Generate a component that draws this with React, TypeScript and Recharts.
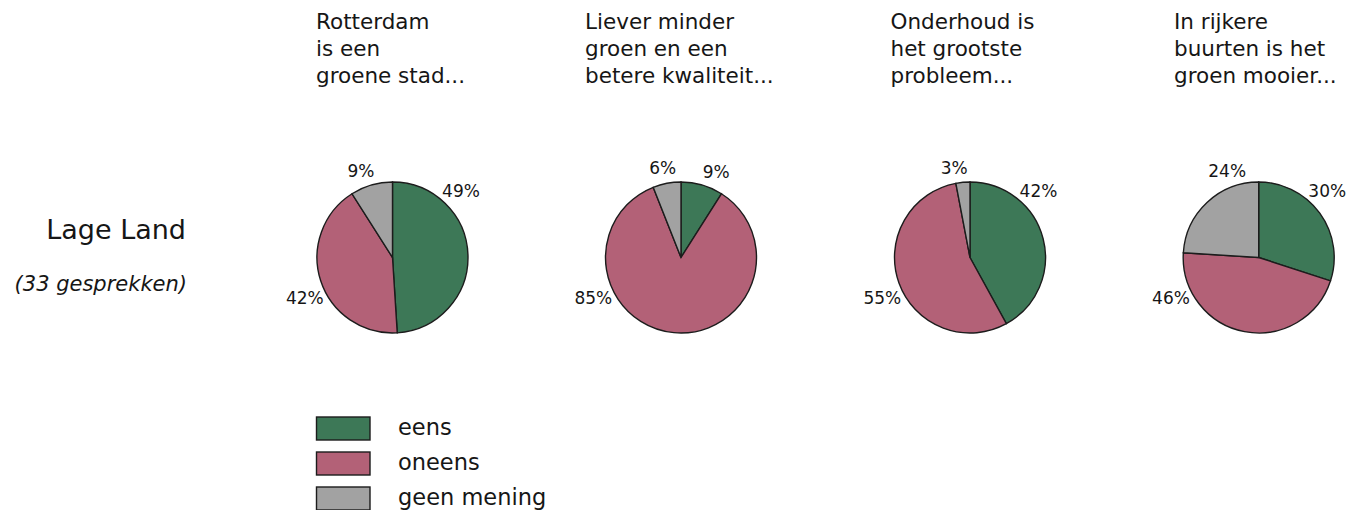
import React from 'react';
import { PieChart, Pie, Cell } from 'recharts';

// ---- data ----
const categories = ['eens', 'oneens', 'geen mening'];
const questionTitles = [
  ['Rotterdam', 'is een', 'groene stad...'],
  ['Liever minder', 'groen en een', 'betere kwaliteit...'],
  ['Onderhoud is', 'het grootste', 'probleem...'],
  ['In rijkere', 'buurten is het', 'groen mooier...'],
];
const eensValues = [49, 9, 42, 30];
const oneensValues = [42, 85, 55, 46];
const geenMeningValues = [9, 6, 3, 24];
const groupName = 'Lage Land';
const groupNote = '(33 gesprekken)';

// ---- style / layout ----
const COLORS = ['#3d7857', '#b36177', '#a2a2a2'];
const STROKE = '#1c1c1c';
const FONT = '"DejaVu Sans", Verdana, sans-serif';
const TEXT = '#161616';
const W = 1363;
const H = 510;
const pieCx = [392.5, 681, 970, 1258.7];
const pieCy = 257.5;
const R = 75.5;
const titleX = [316, 585, 890.5, 1174];
const titleBaselines = [29, 56, 83];
// preferred label angles per category (degrees, recharts convention)
const preferredAngle = [44, -155, 110];

const RAD = Math.PI / 180;

const makeData = (i: number) => [
  { name: categories[0], value: eensValues[i] },
  { name: categories[1], value: oneensValues[i] },
  { name: categories[2], value: geenMeningValues[i] },
];

const renderLabel = (p: any) => {
  const { cx, cy, outerRadius, startAngle, endAngle, midAngle, value, index } = p;
  const lo = Math.min(startAngle, endAngle) + 10;
  const hi = Math.max(startAngle, endAngle) - 10;
  // bring preferred angle into the same turn as the slice
  let theta = preferredAngle[index];
  while (theta - midAngle > 180) theta -= 360;
  while (midAngle - theta > 180) theta += 360;
  if (hi < lo) {
    theta = Math.max(midAngle, lo);
  } else {
    theta = Math.max(Math.min(theta, hi), lo);
  }
  const c = Math.cos(theta * RAD);
  const s = Math.sin(theta * RAD);
  const d = outerRadius + 14 + 8 * Math.abs(c);
  const x = cx + d * c;
  const y = cy - d * s;
  return (
    <text
      key={`lbl-${index}`}
      x={x}
      y={y}
      textAnchor="middle"
      dominantBaseline="central"
      fontFamily={FONT}
      fontSize={17}
      fill={TEXT}
    >
      {`${value}%`}
    </text>
  );
};

export default function App() {
  return (
    <div
      style={{
        position: 'absolute',
        left: 0,
        top: 0,
        width: W,
        height: H,
        background: '#ffffff',
        overflow: 'hidden',
      }}
    >
      <div style={{ position: 'absolute', left: 0, top: 0 }}>
        <PieChart width={W} height={H} margin={{ top: 0, right: 0, bottom: 0, left: 0 }}>
          {pieCx.map((cx, i) => (
            <Pie
              key={`pie-${i}`}
              data={makeData(i)}
              dataKey="value"
              nameKey="name"
              cx={cx}
              cy={pieCy}
              outerRadius={R}
              innerRadius={0}
              startAngle={90}
              endAngle={-270}
              stroke={STROKE}
              strokeWidth={1.4}
              label={renderLabel}
              labelLine={false}
              isAnimationActive={false}
            >
              {categories.map((c, k) => (
                <Cell key={`cell-${i}-${k}`} fill={COLORS[k]} stroke={STROKE} strokeWidth={1.4} />
              ))}
            </Pie>
          ))}
        </PieChart>
      </div>
      <svg
        width={W}
        height={H}
        style={{ position: 'absolute', left: 0, top: 0, pointerEvents: 'none' }}
      >
        {questionTitles.map((lines, i) =>
          lines.map((line, j) => (
            <text
              key={`t-${i}-${j}`}
              x={titleX[i]}
              y={titleBaselines[j]}
              fontFamily={FONT}
              fontSize={21.5}
              fill={TEXT}
            >
              {line}
            </text>
          ))
        )}
        <text x={186} y={239} textAnchor="end" fontFamily={FONT} fontSize={27} fill={TEXT}>
          {groupName}
        </text>
        <text
          x={187}
          y={291}
          textAnchor="end"
          fontFamily={FONT}
          fontStyle="italic"
          fontSize={21}
          fill={TEXT}
        >
          {groupNote}
        </text>
        {categories.map((c, k) => (
          <g key={`leg-${k}`}>
            <rect
              x={316.5}
              y={417 + k * 35}
              width={53.5}
              height={23}
              fill={COLORS[k]}
              stroke={STROKE}
              strokeWidth={1.4}
            />
            <text
              x={398}
              y={434.5 + k * 35}
              fontFamily={FONT}
              fontSize={22.5}
              fill={TEXT}
            >
              {c}
            </text>
          </g>
        ))}
      </svg>
    </div>
  );
}
